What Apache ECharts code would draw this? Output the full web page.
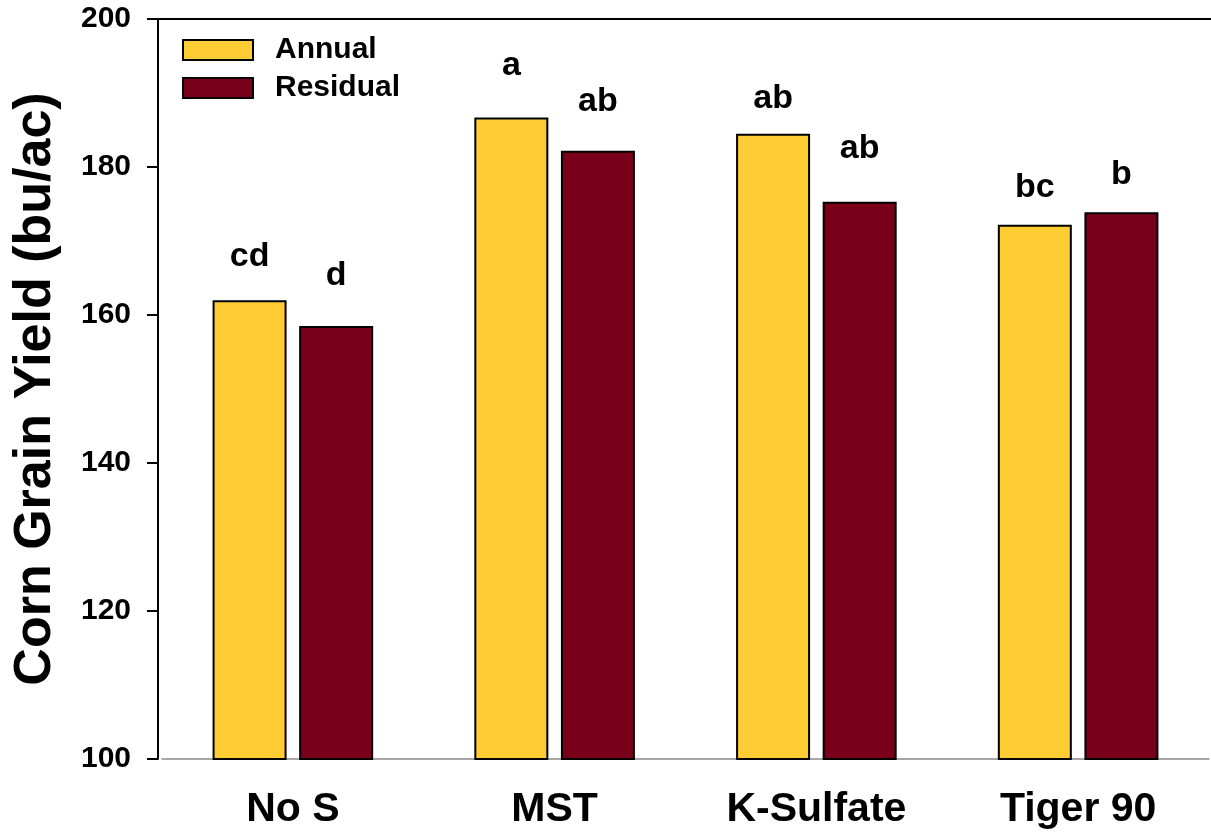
<!DOCTYPE html>
<html>
<head>
<meta charset="utf-8">
<script src="https://cdn.jsdelivr.net/npm/echarts@6/dist/echarts.min.js"></script>
<style>html,body{margin:0;padding:0;background:#fff}#c{width:1211px;height:833px}</style>
</head>
<body>
<div id="c"></div>
<script>
// ---- data ----
const categories = ['No S', 'MST', 'K-Sulfate', 'Tiger 90'];
const seriesNames = ['Annual', 'Residual'];
const annualYield = [162.0, 186.7, 184.5, 172.2];
const residualYield = [158.5, 182.2, 175.3, 173.9];
const annualLetters = ['cd', 'a', 'ab', 'bc'];
const residualLetters = ['d', 'ab', 'ab', 'b'];
const yTicks = [100, 120, 140, 160, 180, 200];

// ---- style ----
const colors = ['#FFCC33', '#7A0019'];
const annualLabelGap = [27, 35, 18, 20];
const residualLabelGap = [33, 32, 36, 21];
const FONT = 'Liberation Sans, Arial, sans-serif';

function mkData(vals, letters, gaps) {
  return vals.map((v, i) => ({
    value: v,
    label: { formatter: letters[i], distance: gaps[i] }
  }));
}

const chart = echarts.init(document.getElementById('c'), null, { renderer: 'canvas' });
const option = {
  animation: false,
  backgroundColor: '#fff',
  grid: { left: 162, right: 2, top: 19, bottom: 74, containLabel: false, outerBoundsMode: 'none' },
  legend: {
    orient: 'vertical',
    left: 182, top: 35,
    padding: 0,
    itemWidth: 70, itemHeight: 20, itemGap: 8,
    data: seriesNames,
    textStyle: { fontFamily: FONT, fontWeight: 'bold', fontSize: 30, color: '#000', padding: [0, 0, 0, 17] },
    icon: 'rect'
  },
  xAxis: {
    type: 'category',
    data: categories,
    axisLine: { lineStyle: { color: '#8a8a8a', width: 1.5 } },
    axisTick: { show: false },
    axisLabel: { fontFamily: FONT, fontWeight: 'bold', fontSize: 41, color: '#000', margin: 30 },
    splitLine: { show: false }
  },
  yAxis: {
    type: 'value',
    min: 100, max: 200, interval: 20,
    offset: 4,
    name: 'Corn Grain Yield (bu/ac)',
    nameLocation: 'middle',
    nameGap: 96,
    nameTextStyle: { fontFamily: FONT, fontWeight: 'bold', fontSize: 52, color: '#000' },
    axisLine: { show: true, lineStyle: { color: '#000', width: 2 } },
    axisTick: { show: true, length: 11, lineStyle: { color: '#000', width: 2 } },
    axisLabel: {
      fontFamily: FONT, fontWeight: 'bold', fontSize: 30, color: '#000', margin: 27,
      formatter: v => (yTicks.indexOf(v) >= 0 ? String(v) : '')
    },
    splitLine: { show: false }
  },
  graphic: [{
    type: 'line',
    shape: { x1: 147, y1: 19, x2: 1211, y2: 19 },
    style: { stroke: '#000', lineWidth: 2 },
    z: 100
  }],
  series: [
    {
      name: seriesNames[0], type: 'bar',
      barWidth: 74, barGap: '17%',
      data: mkData(annualYield, annualLetters, annualLabelGap),
      itemStyle: { color: colors[0], borderColor: '#000', borderWidth: 2 },
      label: { show: true, position: 'top', fontFamily: FONT, fontWeight: 'bold', fontSize: 34, color: '#000' }
    },
    {
      name: seriesNames[1], type: 'bar',
      barWidth: 74,
      data: mkData(residualYield, residualLetters, residualLabelGap),
      itemStyle: { color: colors[1], borderColor: '#000', borderWidth: 2 },
      label: { show: true, position: 'top', fontFamily: FONT, fontWeight: 'bold', fontSize: 34, color: '#000' }
    }
  ]
};
chart.setOption(option);
</script>
</body>
</html>
